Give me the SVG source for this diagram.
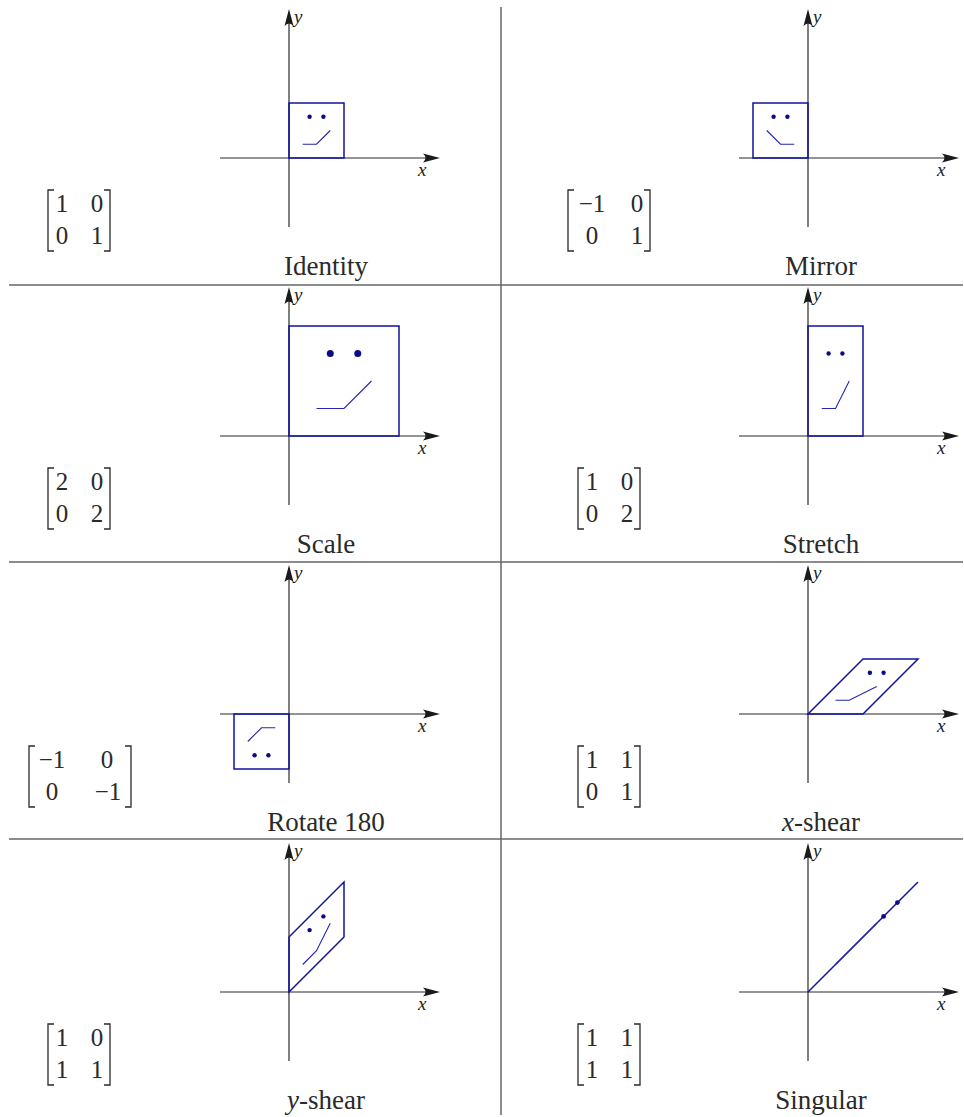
<svg xmlns="http://www.w3.org/2000/svg" xmlns:xlink="http://www.w3.org/1999/xlink" width="964" height="1117" viewBox="0 0 964 1117">
<style>
.ax{stroke:#2b2b2b;stroke-width:1.2;fill:none}
.ah{fill:#1a1a1a}
.sep{stroke:#666;stroke-width:1.5;fill:none}
.sh{stroke:#1212a0;stroke-width:1.5;fill:none;stroke-linejoin:miter}
.mo{stroke:#2424b0;stroke-width:1.1;fill:none}
.ey{fill:#0b0b8a}
.lab{font-family:'Liberation Serif','DejaVu Serif',serif;font-style:italic;font-size:19px;fill:#222}
.ttl{font-family:'Liberation Serif','DejaVu Serif',serif;font-size:27px;fill:#2a2a2a;text-anchor:middle}
.num{font-family:'Liberation Serif','DejaVu Serif',serif;font-size:25px;fill:#2a2a2a;text-anchor:middle}
.br{stroke:#2a2a2a;stroke-width:1.3;fill:none}
</style>
<defs>
<path id="ahx" d="M0 0 L-17 -4.5 Q-12 0 -17 4.5 Z"/>
<path id="ahy" d="M0 0 L-4.5 17 Q0 12 4.5 17 Z"/>
<g id="axes">
<line class="ax" x1="-69" y1="0" x2="146" y2="0"/>
<line class="ax" x1="0" y1="69" x2="0" y2="-144"/>
<use xlink:href="#ahx" x="151" y="0" class="ah"/>
<use xlink:href="#ahy" x="0" y="-149" class="ah"/>
<text class="lab" x="129" y="18">x</text>
<text class="lab" x="5" y="-135">y</text>
</g>
</defs>

<g id="separators">
<line class="sep" x1="501" y1="7" x2="501" y2="1115"/>
<line class="sep" x1="9" y1="285" x2="963" y2="285"/>
<line class="sep" x1="9" y1="562" x2="963" y2="562"/>
<line class="sep" x1="9" y1="839" x2="963" y2="839"/>
</g>

<g id="identity">
<g transform="translate(289,158)">
<use xlink:href="#axes"/>
<rect class="sh" x="0" y="-55" width="55" height="55"/>
<circle class="ey" cx="20.6" cy="-41.25" r="2.2"/>
<circle class="ey" cx="34.4" cy="-41.25" r="2.2"/>
<path class="mo" d="M13.75 -13.75 L27.5 -13.75 L41.25 -27.5"/>
</g>
<path class="br" d="M54 190 H48 V251 H54"/>
<path class="br" d="M104 190 H110 V251 H104"/>
<text class="num" x="62" y="212">1</text><text class="num" x="97" y="212">0</text>
<text class="num" x="62" y="244">0</text><text class="num" x="97" y="244">1</text>
<text class="ttl" x="326" y="275">Identity</text>
</g>

<g id="mirror">
<g transform="translate(808,158)">
<use xlink:href="#axes"/>
<rect class="sh" x="-55" y="-55" width="55" height="55"/>
<circle class="ey" cx="-20.6" cy="-41.25" r="2.2"/>
<circle class="ey" cx="-34.4" cy="-41.25" r="2.2"/>
<path class="mo" d="M-13.75 -13.75 L-27.5 -13.75 L-41.25 -27.5"/>
</g>
<path class="br" d="M574 190 H568 V251 H574"/>
<path class="br" d="M644 190 H650 V251 H644"/>
<text class="num" x="592" y="212">−1</text><text class="num" x="637" y="212">0</text>
<text class="num" x="592" y="244">0</text><text class="num" x="637" y="244">1</text>
<text class="ttl" x="821" y="275">Mirror</text>
</g>

<g id="scale">
<g transform="translate(289,436)">
<use xlink:href="#axes"/>
<rect class="sh" x="0" y="-110" width="110" height="110"/>
<circle class="ey" cx="41.25" cy="-82.5" r="3.5"/>
<circle class="ey" cx="68.75" cy="-82.5" r="3.5"/>
<path class="mo" d="M27.5 -27.5 L55 -27.5 L82.5 -55"/>
</g>
<path class="br" d="M54 468 H48 V529 H54"/>
<path class="br" d="M104 468 H110 V529 H104"/>
<text class="num" x="62" y="490">2</text><text class="num" x="97" y="490">0</text>
<text class="num" x="62" y="522">0</text><text class="num" x="97" y="522">2</text>
<text class="ttl" x="326" y="553">Scale</text>
</g>

<g id="stretch">
<g transform="translate(808,436)">
<use xlink:href="#axes"/>
<rect class="sh" x="0" y="-110" width="55" height="110"/>
<circle class="ey" cx="20.6" cy="-82.5" r="2.2"/>
<circle class="ey" cx="34.4" cy="-82.5" r="2.2"/>
<path class="mo" d="M13.75 -27.5 L27.5 -27.5 L41.25 -55"/>
</g>
<path class="br" d="M584 468 H578 V529 H584"/>
<path class="br" d="M634 468 H640 V529 H634"/>
<text class="num" x="592" y="490">1</text><text class="num" x="627" y="490">0</text>
<text class="num" x="592" y="522">0</text><text class="num" x="627" y="522">2</text>
<text class="ttl" x="821" y="553">Stretch</text>
</g>

<g id="rotate180">
<g transform="translate(289,714)">
<use xlink:href="#axes"/>
<rect class="sh" x="-55" y="0" width="55" height="55"/>
<circle class="ey" cx="-20.6" cy="41.25" r="2.2"/>
<circle class="ey" cx="-34.4" cy="41.25" r="2.2"/>
<path class="mo" d="M-13.75 13.75 L-27.5 13.75 L-41.25 27.5"/>
</g>
<path class="br" d="M35 746 H29 V807 H35"/>
<path class="br" d="M125 746 H131 V807 H125"/>
<text class="num" x="52" y="768">−1</text><text class="num" x="107" y="768">0</text>
<text class="num" x="52" y="800">0</text><text class="num" x="108" y="800">−1</text>
<text class="ttl" x="326" y="831">Rotate 180</text>
</g>

<g id="xshear">
<g transform="translate(808,714)">
<use xlink:href="#axes"/>
<polygon class="sh" points="0,0 55,0 110,-55 55,-55"/>
<circle class="ey" cx="61.9" cy="-41.25" r="2.2"/>
<circle class="ey" cx="75.6" cy="-41.25" r="2.2"/>
<path class="mo" d="M27.5 -13.75 L41.25 -13.75 L68.75 -27.5"/>
</g>
<path class="br" d="M584 746 H578 V807 H584"/>
<path class="br" d="M634 746 H640 V807 H634"/>
<text class="num" x="592" y="768">1</text><text class="num" x="627" y="768">1</text>
<text class="num" x="592" y="800">0</text><text class="num" x="627" y="800">1</text>
<text class="ttl" x="821" y="831"><tspan font-style="italic">x</tspan>-shear</text>
</g>

<g id="yshear">
<g transform="translate(289,992)">
<use xlink:href="#axes"/>
<polygon class="sh" points="0,0 55,-55 55,-110 0,-55"/>
<circle class="ey" cx="20.6" cy="-61.9" r="2.2"/>
<circle class="ey" cx="34.4" cy="-75.6" r="2.2"/>
<path class="mo" d="M13.75 -27.5 L27.5 -41.25 L41.25 -68.75"/>
</g>
<path class="br" d="M54 1024 H48 V1085 H54"/>
<path class="br" d="M104 1024 H110 V1085 H104"/>
<text class="num" x="62" y="1046">1</text><text class="num" x="97" y="1046">0</text>
<text class="num" x="62" y="1078">1</text><text class="num" x="97" y="1078">1</text>
<text class="ttl" x="326" y="1109"><tspan font-style="italic">y</tspan>-shear</text>
</g>

<g id="singular">
<g transform="translate(808,992)">
<use xlink:href="#axes"/>
<polygon class="sh" points="0,0 55,-55 110,-110 55,-55" stroke-width="2"/>
<circle class="ey" cx="75.6" cy="-75.6" r="2.4"/>
<circle class="ey" cx="89.4" cy="-89.4" r="2.4"/>
<path class="mo" d="M27.5 -27.5 L68.75 -68.75"/>
</g>
<path class="br" d="M584 1024 H578 V1085 H584"/>
<path class="br" d="M634 1024 H640 V1085 H634"/>
<text class="num" x="592" y="1046">1</text><text class="num" x="627" y="1046">1</text>
<text class="num" x="592" y="1078">1</text><text class="num" x="627" y="1078">1</text>
<text class="ttl" x="821" y="1109">Singular</text>
</g>
</svg>
